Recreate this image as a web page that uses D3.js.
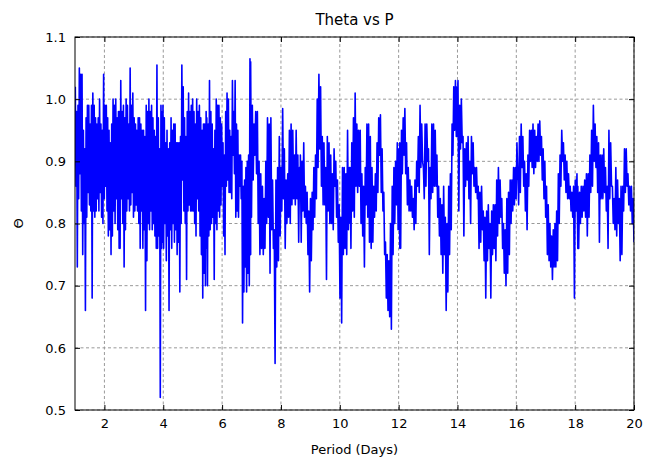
<!DOCTYPE html>
<html>
<head>
<meta charset="utf-8">
<script src="https://cdn.jsdelivr.net/npm/d3@7"></script>
<style>
  body { margin: 0; background: #fff; }
  text { font-family: "DejaVu Sans", sans-serif; fill: #000; }
</style>
</head>
<body>
<div id="chart"></div>
<script>
// period range covered by each block of theta values
const segStart = [1.01, 2.51, 3.99, 5.48, 6.97, 8.66, 10.35, 12.04, 13.96, 16.05, 18.09];
const segEnd   = [2.50, 3.99, 5.48, 6.97, 8.66, 10.35, 12.04, 13.96, 16.05, 18.09, 20.0];

const theta1 = [1.02,0.86,0.98,0.73,0.99,0.84,1.05,0.88,1.04,0.82,1.04,0.75,0.95,0.80,0.92,0.66,0.97,0.81,0.99,0.85,
  0.99,0.83,0.96,0.82,0.99,0.68,1.01,0.82,0.99,0.81,0.97,0.82,0.96,0.84,0.97,0.82,1.00,0.85,0.96,0.81,
  0.95,0.80,1.04,0.84,0.99,0.86,0.99,0.82,0.97,0.78,0.95,0.79,0.93,0.75,0.96,0.78,1.00,0.82,0.99,0.80,
  1.00,0.84,0.97,0.79,0.98,0.76];
const theta2 = [0.98,0.76,1.03,0.84,0.98,0.80,0.99,0.73,0.97,0.79,1.00,0.82,0.99,0.84,0.96,0.82,1.05,0.83,0.99,0.85,
  1.01,0.81,0.97,0.82,0.96,0.83,0.95,0.82,0.97,0.80,0.97,0.76,0.96,0.82,0.95,0.76,0.95,0.79,0.94,0.66,
  0.99,0.74,0.98,0.80,1.00,0.79,0.98,0.82,0.99,0.79,0.97,0.80,0.95,0.78,0.94,0.76,1.055,0.76,0.97,0.78,
  0.92,0.52,0.99,0.76,0.98,0.77];
const theta3 = [0.99,0.76,0.97,0.80,0.93,0.74,0.95,0.78,0.92,0.66,0.93,0.79,0.97,0.76,0.95,0.80,0.96,0.77,0.96,0.79,
  0.93,0.75,0.93,0.77,0.93,0.69,0.94,0.80,1.055,0.87,1.02,0.82,0.97,0.80,0.94,0.71,0.98,0.82,1.01,0.83,
  0.98,0.82,0.99,0.82,1.00,0.82,0.98,0.80,0.96,0.78,1.00,0.84,0.98,0.82,0.99,0.78,0.97,0.75,0.95,0.68,
  0.96,0.72,0.96,0.70,0.98,0.76];
const theta4 = [0.97,0.70,0.96,0.78,1.03,0.79,0.98,0.80,0.96,0.81,0.92,0.71,0.95,0.80,1.00,0.79,0.99,0.82,0.99,0.81,
  0.97,0.83,0.96,0.86,0.93,0.78,0.91,0.75,0.98,0.86,1.01,0.87,1.00,0.85,0.95,0.85,0.94,0.84,1.03,0.91,
  0.98,0.88,1.03,0.81,0.96,0.82,0.95,0.81,0.91,0.86,0.91,0.84,0.90,0.64,0.86,0.69,0.87,0.73,0.89,0.69,
  0.90,0.72,0.91,0.70,1.065,0.75];
const theta5 = [1.06,0.81,0.99,0.87,0.96,0.91,0.98,0.88,0.98,0.80,0.90,0.75,0.88,0.76,0.86,0.75,0.84,0.76,0.90,0.80,
  0.97,0.81,0.96,0.72,0.97,0.79,0.87,0.76,0.79,0.575,0.87,0.73,0.89,0.74,0.94,0.78,0.89,0.82,0.985,0.84,
  0.92,0.76,0.87,0.80,0.88,0.81,0.95,0.80,0.96,0.83,0.95,0.84,0.91,0.83,0.95,0.84,0.91,0.77,0.89,0.85];
const theta6 = [0.91,0.77,0.90,0.82,0.93,0.81,0.86,0.80,0.85,0.75,0.82,0.69,0.84,0.74,0.85,0.79,0.89,0.81,0.91,0.84,
  1.00,0.89,1.04,0.92,1.02,0.86,0.94,0.83,0.93,0.83,0.89,0.71,0.94,0.82,0.93,0.80,0.91,0.80,0.88,0.79,
  0.92,0.86,0.90,0.81,0.87,0.77,0.83,0.68,0.81,0.64,0.89,0.75,0.89,0.76,0.88,0.75,0.95,0.79,0.89,0.80];
const theta7 = [0.89,0.76,0.93,0.82,0.97,0.81,1.01,0.86,0.96,0.85,0.95,0.86,0.95,0.80,0.88,0.78,0.86,0.73,0.89,0.83,
  0.96,0.81,0.96,0.77,0.94,0.76,0.89,0.77,0.86,0.81,0.88,0.82,0.93,0.85,0.97,0.91,0.975,0.85,0.92,0.82,
  0.85,0.75,0.77,0.68,0.75,0.66,0.74,0.65,0.80,0.63,0.86,0.75,0.89,0.80,0.90,0.83,0.93,0.79,0.92,0.76];
const theta8 = [0.93,0.76,0.95,0.88,0.97,0.91,0.985,0.88,0.93,0.83,0.89,0.82,0.87,0.82,0.86,0.81,0.84,0.79,0.87,0.80,
  0.90,0.86,0.94,0.85,0.99,0.89,0.96,0.90,0.89,0.84,0.96,0.86,0.96,0.90,0.92,0.75,0.89,0.84,0.96,0.85,
  0.96,0.86,0.95,0.86,0.91,0.81,0.86,0.78,0.84,0.75,0.83,0.72,0.86,0.75,0.81,0.66,0.80,0.69,0.86,0.75,
  0.88,0.79,0.96,0.91,1.02,0.95,1.03,0.94];
const theta9 = [1.02,0.94,1.03,0.82,0.99,0.92,1.00,0.93,0.94,0.78,0.92,0.86,0.93,0.87,0.94,0.84,0.90,0.80,0.94,0.88,
  0.93,0.86,0.89,0.85,0.89,0.84,0.86,0.76,0.85,0.77,0.86,0.79,0.82,0.74,0.81,0.68,0.82,0.74,0.83,0.76,
  0.80,0.68,0.82,0.75,0.83,0.76,0.83,0.74,0.87,0.78,0.89,0.80,0.87,0.81,0.84,0.76,0.80,0.72,0.79,0.70,
  0.84,0.72,0.85,0.75,0.87,0.80,0.87,0.82,0.89,0.83,0.89,0.84,0.93,0.87];
const theta10 = [0.89,0.83,0.94,0.85,0.96,0.89,0.94,0.86,0.90,0.82,0.88,0.79,0.91,0.86,0.95,0.90,0.95,0.89,0.96,0.88,
  0.95,0.89,0.94,0.90,0.96,0.90,0.965,0.91,0.94,0.87,0.92,0.84,0.90,0.81,0.86,0.75,0.83,0.74,0.80,0.73,
  0.78,0.71,0.79,0.73,0.80,0.73,0.82,0.74,0.88,0.80,0.91,0.86,0.95,0.90,0.93,0.87,0.91,0.85,0.90,0.84,
  0.88,0.84,0.86,0.82,0.85,0.81,0.86,0.68,0.87,0.82,0.88,0.76];
const theta11 = [0.86,0.76,0.85,0.80,0.86,0.81,0.86,0.82,0.87,0.81,0.88,0.78,0.88,0.81,0.91,0.85,0.95,0.86,0.99,0.90,
  0.96,0.89,0.94,0.85,0.93,0.77,0.91,0.84,0.91,0.84,0.92,0.85,0.89,0.82,0.86,0.76,0.95,0.84,0.93,0.86,
  0.86,0.80,0.84,0.79,0.89,0.78,0.87,0.80,0.84,0.74,0.86,0.75,0.86,0.82,0.92,0.85,0.92,0.86,0.88,0.83,
  0.86,0.82,0.86,0.80,0.84,0.77];

const thetaSegs = [theta1, theta2, theta3, theta4, theta5, theta6, theta7, theta8, theta9, theta10, theta11];

const xTicks = [2, 4, 6, 8, 10, 12, 14, 16, 18, 20];
const yTicks = [0.5, 0.6, 0.7, 0.8, 0.9, 1.0, 1.1];

// flatten the blocks into (period, theta) points
var points = [];
thetaSegs.forEach(function (vals, k) {
  var step = (segEnd[k] - segStart[k]) / (vals.length - 1);
  vals.forEach(function (v, i) {
    points.push({ p: segStart[k] + i * step, t: v });
  });
});

var width = 657;
var height = 462;
var margin = { top: 37, right: 23, bottom: 52, left: 75 };

var svg = d3.select("#chart")
  .append("svg")
  .attr("width", width)
  .attr("height", height);

var x = d3.scaleLinear().domain([1, 20]).range([margin.left, width - margin.right]);
var y = d3.scaleLinear().domain([0.5, 1.1]).range([height - margin.bottom, margin.top]);

// grid
svg.append("g")
  .selectAll("line")
  .data(xTicks)
  .enter()
  .append("line")
  .attr("x1", function (d) { return x(d); })
  .attr("x2", function (d) { return x(d); })
  .attr("y1", y(0.5))
  .attr("y2", y(1.1))
  .attr("stroke", "#999")
  .attr("stroke-width", 1)
  .attr("stroke-dasharray", "3,2.5");

svg.append("g")
  .selectAll("line")
  .data(yTicks)
  .enter()
  .append("line")
  .attr("x1", x(1))
  .attr("x2", x(20))
  .attr("y1", function (d) { return y(d); })
  .attr("y2", function (d) { return y(d); })
  .attr("stroke", "#999")
  .attr("stroke-width", 1)
  .attr("stroke-dasharray", "3,2.5");

// clip + line
svg.append("clipPath")
  .attr("id", "plotclip")
  .append("rect")
  .attr("x", x(1))
  .attr("y", y(1.1))
  .attr("width", x(20) - x(1))
  .attr("height", y(0.5) - y(1.1));

var line = d3.line()
  .x(function (d) { return x(d.p); })
  .y(function (d) { return y(d.t); });

svg.append("path")
  .datum(points)
  .attr("clip-path", "url(#plotclip)")
  .attr("d", line)
  .attr("fill", "none")
  .attr("stroke", "#0000ff")
  .attr("stroke-width", 1.6)
  .attr("stroke-linejoin", "round");

// ticks pointing inward on all four sides
var xAxisB = d3.axisBottom(x).tickValues(xTicks).tickSizeInner(-5).tickSizeOuter(0).tickPadding(9)
  .tickFormat(d3.format("d"));
var xAxisT = d3.axisTop(x).tickValues(xTicks).tickSizeInner(-5).tickSizeOuter(0).tickFormat("");
var yAxisL = d3.axisLeft(y).tickValues(yTicks).tickSizeInner(-5).tickSizeOuter(0).tickPadding(9)
  .tickFormat(d3.format(".1f"));
var yAxisR = d3.axisRight(y).tickValues(yTicks).tickSizeInner(-5).tickSizeOuter(0).tickFormat("");

svg.append("g").attr("transform", "translate(0," + y(0.5) + ")").call(xAxisB);
svg.append("g").attr("transform", "translate(0," + y(1.1) + ")").call(xAxisT);
svg.append("g").attr("transform", "translate(" + x(1) + ",0)").call(yAxisL);
svg.append("g").attr("transform", "translate(" + x(20) + ",0)").call(yAxisR);

svg.selectAll(".domain").remove();
svg.selectAll(".tick line").attr("stroke", "#000").attr("stroke-width", 1);
svg.selectAll(".tick text")
  .style("font-family", "DejaVu Sans")
  .style("font-size", "13px")
  .attr("fill", "#000");

// frame
svg.append("rect")
  .attr("x", x(1))
  .attr("y", y(1.1))
  .attr("width", x(20) - x(1))
  .attr("height", y(0.5) - y(1.1))
  .attr("fill", "none")
  .attr("stroke", "#000")
  .attr("stroke-width", 1);

// labels
svg.append("text")
  .attr("x", (x(1) + x(20)) / 2)
  .attr("y", 25)
  .attr("text-anchor", "middle")
  .style("font-size", "15px")
  .text("Theta vs P");

svg.append("text")
  .attr("x", (x(1) + x(20)) / 2)
  .attr("y", 454)
  .attr("text-anchor", "middle")
  .style("font-size", "13px")
  .text("Period (Days)");

svg.append("text")
  .attr("transform", "translate(23," + (y(0.5) + y(1.1)) / 2 + ") rotate(-90)")
  .attr("text-anchor", "middle")
  .style("font-size", "13px")
  .text("Θ");
</script>
</body>
</html>
